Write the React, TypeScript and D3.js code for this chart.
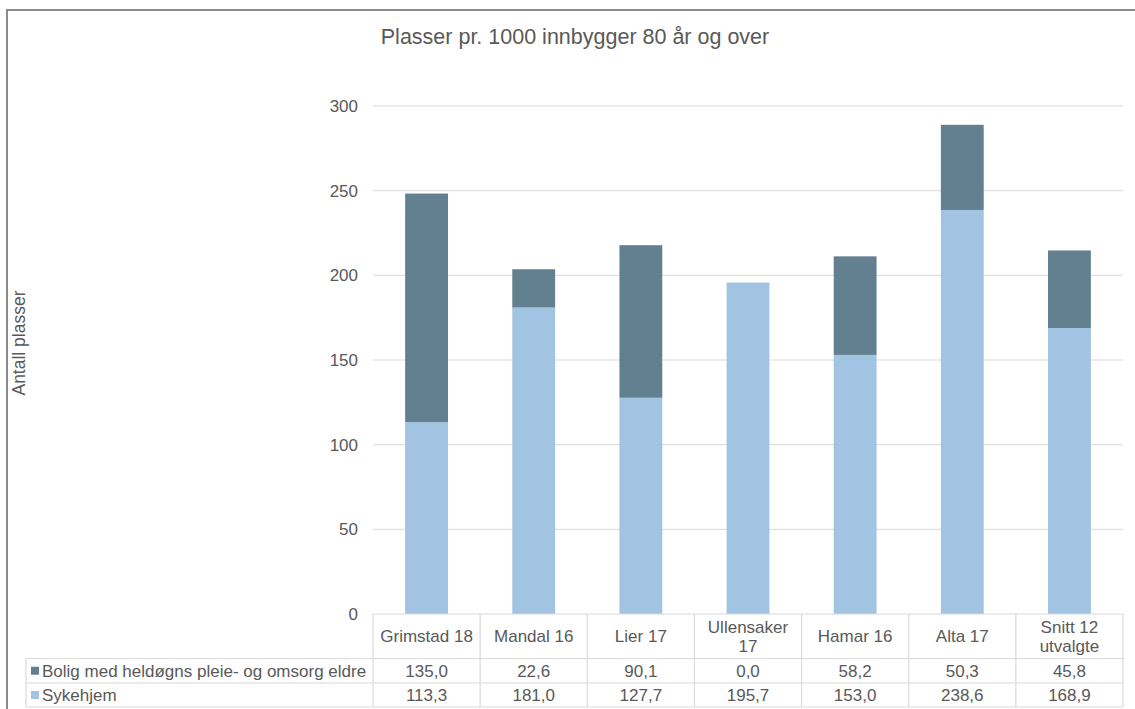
import React from "react";
import * as d3 from "d3";

const categories: string[][] = [
  ["Grimstad 18"],
  ["Mandal 16"],
  ["Lier 17"],
  ["Ullensaker", "17"],
  ["Hamar 16"],
  ["Alta 17"],
  ["Snitt 12", "utvalgte"],
];
const bolig: number[] = [135.0, 22.6, 90.1, 0.0, 58.2, 50.3, 45.8];
const sykehjem: number[] = [113.3, 181.0, 127.7, 195.7, 153.0, 238.6, 168.9];
const yTicks: number[] = [0, 50, 100, 150, 200, 250, 300];
const seriesNames = ["Bolig med heldøgns pleie- og omsorg eldre", "Sykehjem"];
const title = "Plasser pr. 1000 innbygger 80 år og over";
const yLabel = "Antall plasser";

const W = 1135;
const H = 709;
const COL_DARK = "#62808f";
const COL_LIGHT = "#a1c4e2";
const TXT = "#595959";
const GRID = "#d9d9d9";
const FONT = "'Liberation Sans', Arial, sans-serif";
const FS = 17;

export default function App() {
  const keys = categories.map((c) => c.join(" "));
  const plotL = 373;
  const plotR = 1123;
  const x = d3.scaleBand<string>().domain(keys).range([plotL, plotR]).paddingInner(0.6).paddingOuter(0.3);
  const xc = d3.scaleBand<string>().domain(keys).range([plotL, plotR]).padding(0);
  const y = d3.scaleLinear().domain([0, 300]).range([614, 106]);
  const fmt = (v: number) => v.toFixed(1).replace(".", ",");

  const tableTop = 614;
  const headBot = 658.5;
  const row1Bot = 683;
  const row2Bot = 707;
  const tableL = 26;

  const fmtTick = d3.format("d");

  return (
    <div style={{ position: "absolute", left: 0, top: 0 }}>
      <svg width={W} height={H} style={{ display: "block", fontFamily: FONT }}>
        <rect x={0} y={0} width={W} height={H} fill="#fff" />
        <rect x={7} y={10} width={W + 20} height={H + 20} fill="none" stroke="#8a8a8a" strokeWidth={2} />
        <text x={575} y={44} textAnchor="middle" fontSize={21.5} fill={TXT}>
          {title}
        </text>
        <text
          transform={`translate(25,343) rotate(-90)`}
          textAnchor="middle"
          fontSize={17.5}
          fill={TXT}
        >
          {yLabel}
        </text>
        {yTicks.map((t) => (
          <g key={t}>
            {t > 0 && <line x1={plotL} x2={plotR} y1={y(t)} y2={y(t)} stroke={GRID} strokeWidth={1} />}
            <text x={358} y={y(t)} dy="0.35em" textAnchor="end" fontSize={FS} fill={TXT}>
              {fmtTick(t)}
            </text>
          </g>
        ))}
        {keys.map((k, i) => (
          <g key={k}>
            <rect
              x={x(k)}
              y={y(sykehjem[i])}
              width={x.bandwidth()}
              height={y(0) - y(sykehjem[i])}
              fill={COL_LIGHT}
            />
            {bolig[i] > 0 && (
              <rect
                x={x(k)}
                y={y(sykehjem[i] + bolig[i])}
                width={x.bandwidth()}
                height={y(sykehjem[i]) - y(sykehjem[i] + bolig[i])}
                fill={COL_DARK}
              />
            )}
          </g>
        ))}
        {/* table */}
        <g stroke={GRID} strokeWidth={1.2} fill="none">
          <line x1={plotL} x2={plotR} y1={tableTop} y2={tableTop} />
          <line x1={tableL} x2={plotR} y1={headBot} y2={headBot} />
          <line x1={tableL} x2={plotR} y1={row1Bot} y2={row1Bot} />
          <line x1={tableL} x2={plotR} y1={row2Bot} y2={row2Bot} />
          <line x1={tableL} x2={tableL} y1={headBot} y2={row2Bot} />
          {keys.map((k) => (
            <line key={k} x1={xc(k)} x2={xc(k)} y1={tableTop} y2={row2Bot} />
          ))}
          <line x1={plotR} x2={plotR} y1={tableTop} y2={row2Bot} />
        </g>
        {keys.map((k, i) => {
          const cx = (xc(k) as number) + xc.bandwidth() / 2;
          const lines = categories[i];
          const mid = (tableTop + headBot) / 2;
          return (
            <g key={k} fontSize={FS} fill={TXT} textAnchor="middle">
              {lines.map((ln, j) => (
                <text key={j} x={cx} y={mid + (j - (lines.length - 1) / 2) * 19} dy="0.35em">
                  {ln}
                </text>
              ))}
              <text x={cx} y={(headBot + row1Bot) / 2} dy="0.35em">
                {fmt(bolig[i])}
              </text>
              <text x={cx} y={(row1Bot + row2Bot) / 2} dy="0.35em">
                {fmt(sykehjem[i])}
              </text>
            </g>
          );
        })}
        {seriesNames.map((s, i) => {
          const cy = i === 0 ? (headBot + row1Bot) / 2 : (row1Bot + row2Bot) / 2;
          return (
            <g key={s}>
              <rect x={31} y={cy - 4} width={8} height={8} fill={i === 0 ? COL_DARK : COL_LIGHT} />
              <text x={42} y={cy} dy="0.35em" fontSize={FS} fill={TXT}>
                {s}
              </text>
            </g>
          );
        })}
      </svg>
    </div>
  );
}
